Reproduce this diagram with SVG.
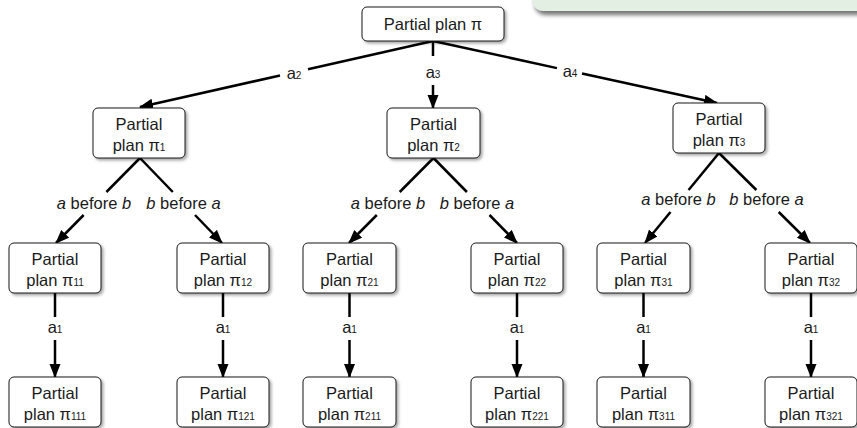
<svg xmlns="http://www.w3.org/2000/svg" width="857" height="428" viewBox="0 0 857 428">
  <style>
    .node rect { fill: #ffffff; stroke: #1a1a1a; stroke-width: 1; filter: url(#shadow); }
    .node text, .lbl { font-family: "Liberation Sans", Arial, Helvetica, sans-serif; font-size: 16.5px; fill: #1a1a1a; }
    .node text { text-anchor: middle; }
    .sub { font-size: 10px; }
    .lbl { text-anchor: middle; }
    .it { font-style: italic; }
    .edge { stroke: #000; stroke-width: 2.5; fill: none; }
    .arrow { marker-end: url(#head); }
  </style>
  <defs>
    <filter id="shadow" x="-10%" y="-10%" width="130%" height="140%">
      <feDropShadow dx="2" dy="2" stdDeviation="1.5" flood-color="#000" flood-opacity="0.35"/>
    </filter>
    <filter id="noteShadow" x="-5%" y="-20%" width="115%" height="200%">
      <feDropShadow dx="2" dy="4" stdDeviation="2" flood-color="#000" flood-opacity="0.55"/>
    </filter>
    <marker id="head" markerUnits="userSpaceOnUse" markerWidth="15" markerHeight="12" refX="13" refY="5.5" orient="auto">
      <path d="M0,0 L14,5.5 L0,11 z" fill="#000"/>
    </marker>
  </defs>

  <!-- note panel cut off at the top edge -->
  <rect x="533" y="-30" width="340" height="41" rx="10" fill="#e4efe4" filter="url(#noteShadow)"/>

  <!-- connectors -->
  <g id="connectors">
    <!-- root to level 1 -->
    <line class="edge" x1="433" y1="41" x2="308" y2="69.2"/>
    <line class="edge arrow" x1="280" y1="75.5" x2="140" y2="107"/>
    <text class="lbl" x="294" y="79">a<tspan class="sub">2</tspan></text>

    <line class="edge" x1="433" y1="41" x2="433" y2="56"/>
    <line class="edge arrow" x1="433" y1="85" x2="433" y2="108"/>
    <text class="lbl" x="433" y="78">a<tspan class="sub">3</tspan></text>

    <line class="edge" x1="433" y1="41" x2="557" y2="68.1"/>
    <line class="edge arrow" x1="582" y1="73.5" x2="717" y2="103"/>
    <text class="lbl" x="570" y="77">a<tspan class="sub">4</tspan></text>

    <!-- pi1 children -->
    <line class="edge" x1="140" y1="158" x2="106.4" y2="192"/>
    <line class="edge arrow" x1="83.7" y1="215" x2="56" y2="243"/>
    <line class="edge" x1="140" y1="158" x2="172.8" y2="192"/>
    <line class="edge arrow" x1="195" y1="215" x2="222" y2="243"/>
    <text class="lbl" x="94" y="209"><tspan class="it">a</tspan> before <tspan class="it">b</tspan></text>
    <text class="lbl" x="183.5" y="209"><tspan class="it">b</tspan> before <tspan class="it">a</tspan></text>

    <!-- pi2 children -->
    <line class="edge" x1="433.5" y1="158" x2="399.7" y2="192"/>
    <line class="edge arrow" x1="376.8" y1="215" x2="349" y2="243"/>
    <line class="edge" x1="433.5" y1="158" x2="466.9" y2="192"/>
    <line class="edge arrow" x1="489.5" y1="215" x2="517" y2="243"/>
    <text class="lbl" x="388" y="209"><tspan class="it">a</tspan> before <tspan class="it">b</tspan></text>
    <text class="lbl" x="477" y="209"><tspan class="it">b</tspan> before <tspan class="it">a</tspan></text>

    <!-- pi3 children -->
    <line class="edge" x1="719" y1="153" x2="688.6" y2="190"/>
    <line class="edge arrow" x1="670.5" y1="212" x2="645" y2="243"/>
    <line class="edge" x1="719" y1="153" x2="756.4" y2="190"/>
    <line class="edge arrow" x1="778.7" y1="212" x2="810" y2="243"/>
    <text class="lbl" x="678.5" y="205"><tspan class="it">a</tspan> before <tspan class="it">b</tspan></text>
    <text class="lbl" x="766.5" y="205"><tspan class="it">b</tspan> before <tspan class="it">a</tspan></text>

    <!-- level 2 to level 3, action a1 -->
    <line class="edge" x1="55" y1="293" x2="55" y2="317"/>
    <line class="edge arrow" x1="55" y1="340" x2="55" y2="377"/>
    <text class="lbl" x="55" y="333">a<tspan class="sub">1</tspan></text>

    <line class="edge" x1="223" y1="293" x2="223" y2="317"/>
    <line class="edge arrow" x1="223" y1="340" x2="223" y2="377"/>
    <text class="lbl" x="223" y="333">a<tspan class="sub">1</tspan></text>

    <line class="edge" x1="349.5" y1="293" x2="349.5" y2="317"/>
    <line class="edge arrow" x1="349.5" y1="340" x2="349.5" y2="377"/>
    <text class="lbl" x="349.5" y="333">a<tspan class="sub">1</tspan></text>

    <line class="edge" x1="517" y1="293" x2="517" y2="317"/>
    <line class="edge arrow" x1="517" y1="340" x2="517" y2="377"/>
    <text class="lbl" x="517" y="333">a<tspan class="sub">1</tspan></text>

    <line class="edge" x1="643.5" y1="293" x2="643.5" y2="317"/>
    <line class="edge arrow" x1="643.5" y1="340" x2="643.5" y2="377"/>
    <text class="lbl" x="643.5" y="333">a<tspan class="sub">1</tspan></text>

    <line class="edge" x1="811" y1="293" x2="811" y2="317"/>
    <line class="edge arrow" x1="811" y1="340" x2="811" y2="377"/>
    <text class="lbl" x="811" y="333">a<tspan class="sub">1</tspan></text>
  </g>

  <!-- root -->
  <g id="pi" class="node">
    <rect x="362" y="7" width="142" height="34" rx="5"/>
    <text x="433" y="29.5">Partial plan π</text>
  </g>

  <!-- level 1 -->
  <g id="pi1" class="node">
    <rect x="93" y="108" width="92" height="50" rx="5"/>
    <text x="139" y="129.5">Partial</text>
    <text x="139" y="150.5">plan π<tspan class="sub">1</tspan></text>
  </g>
  <g id="pi2" class="node">
    <rect x="387" y="108" width="93" height="50" rx="5"/>
    <text x="433.5" y="129.5">Partial</text>
    <text x="433.5" y="150.5">plan π<tspan class="sub">2</tspan></text>
  </g>
  <g id="pi3" class="node">
    <rect x="673" y="103" width="92" height="50" rx="5"/>
    <text x="719" y="124.5">Partial</text>
    <text x="719" y="145.5">plan π<tspan class="sub">3</tspan></text>
  </g>

  <!-- level 2 -->
  <g id="pi11" class="node">
    <rect x="9" y="243" width="92" height="50" rx="5"/>
    <text x="55" y="264.5">Partial</text>
    <text x="55" y="285.5">plan π<tspan class="sub">11</tspan></text>
  </g>
  <g id="pi12" class="node">
    <rect x="177" y="243" width="92" height="50" rx="5"/>
    <text x="223" y="264.5">Partial</text>
    <text x="223" y="285.5">plan π<tspan class="sub">12</tspan></text>
  </g>
  <g id="pi21" class="node">
    <rect x="303" y="243" width="93" height="50" rx="5"/>
    <text x="349.5" y="264.5">Partial</text>
    <text x="349.5" y="285.5">plan π<tspan class="sub">21</tspan></text>
  </g>
  <g id="pi22" class="node">
    <rect x="471" y="243" width="92" height="50" rx="5"/>
    <text x="517" y="264.5">Partial</text>
    <text x="517" y="285.5">plan π<tspan class="sub">22</tspan></text>
  </g>
  <g id="pi31" class="node">
    <rect x="597" y="243" width="93" height="50" rx="5"/>
    <text x="643.5" y="264.5">Partial</text>
    <text x="643.5" y="285.5">plan π<tspan class="sub">31</tspan></text>
  </g>
  <g id="pi32" class="node">
    <rect x="765" y="243" width="92" height="50" rx="5"/>
    <text x="811" y="264.5">Partial</text>
    <text x="811" y="285.5">plan π<tspan class="sub">32</tspan></text>
  </g>

  <!-- level 3 -->
  <g id="pi111" class="node">
    <rect x="9" y="377" width="92" height="50" rx="5"/>
    <text x="55" y="398.5">Partial</text>
    <text x="55" y="419.5">plan π<tspan class="sub">111</tspan></text>
  </g>
  <g id="pi121" class="node">
    <rect x="177" y="377" width="92" height="50" rx="5"/>
    <text x="223" y="398.5">Partial</text>
    <text x="223" y="419.5">plan π<tspan class="sub">121</tspan></text>
  </g>
  <g id="pi211" class="node">
    <rect x="303" y="377" width="93" height="50" rx="5"/>
    <text x="349.5" y="398.5">Partial</text>
    <text x="349.5" y="419.5">plan π<tspan class="sub">211</tspan></text>
  </g>
  <g id="pi221" class="node">
    <rect x="471" y="377" width="92" height="50" rx="5"/>
    <text x="517" y="398.5">Partial</text>
    <text x="517" y="419.5">plan π<tspan class="sub">221</tspan></text>
  </g>
  <g id="pi311" class="node">
    <rect x="597" y="377" width="93" height="50" rx="5"/>
    <text x="643.5" y="398.5">Partial</text>
    <text x="643.5" y="419.5">plan π<tspan class="sub">311</tspan></text>
  </g>
  <g id="pi321" class="node">
    <rect x="765" y="377" width="92" height="50" rx="5"/>
    <text x="811" y="398.5">Partial</text>
    <text x="811" y="419.5">plan π<tspan class="sub">321</tspan></text>
  </g>
</svg>
